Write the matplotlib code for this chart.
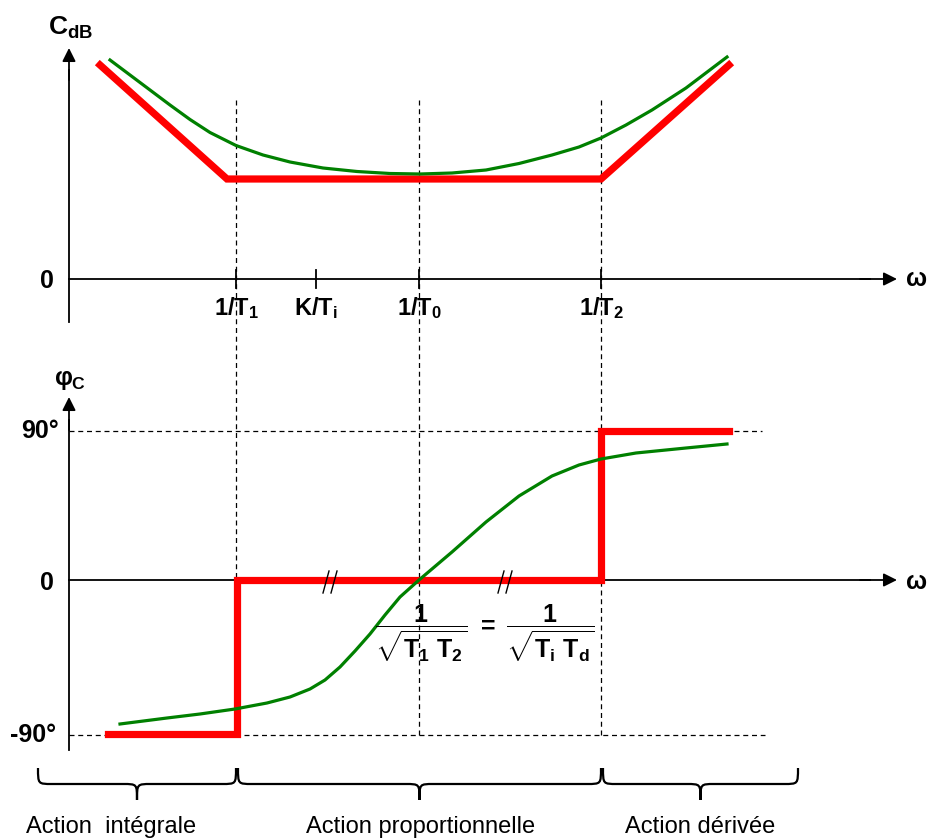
import matplotlib

matplotlib.use("Agg")
import matplotlib.pyplot as plt
from matplotlib.path import Path
from matplotlib.patches import PathPatch

# Coordonnees du dessin : pixels de l'image (x vers la droite, y vers le bas)
X_ORIG = 69
Y_GAIN = 279
Y_PHASE = 580
Y_P90 = 431
Y_M90 = 735

# Pulsations caracteristiques (positions sur l'axe omega)
pulsations = [236, 316, 419, 601]
etiquettes_puls = [r"$1/T_1$", r"$K/T_i$", r"$1/T_0$", r"$1/T_2$"]
cassures = [236, 419, 601]

# Gain : asymptotes (rouge) et courbe reelle (vert)
gain_asym_x = [100, 227, 601, 729]
gain_asym_y = [65, 179, 179, 65]
gain_reel_x = [110, 140, 170, 190, 210, 236, 263, 290, 323, 357, 390, 420,
               452, 486, 519, 552, 579, 601, 626, 652, 686, 727]
gain_reel_y = [60, 82.5, 105, 119.5, 132.5, 145.5, 155, 162, 168, 171.5, 173.5, 174,
               173, 170, 163.5, 155, 147, 138, 125, 110, 88, 57]

# Phase : asymptotes (rouge) et courbe reelle (vert)
phase_asym_x = [108, 237, 237, 601, 601, 729]
phase_asym_y = [734, 734, 580, 580, 431, 431]
phase_reel_x = [120, 167, 200, 235, 267, 290, 310, 325, 340, 355, 370, 385, 400,
                419, 452, 486, 519, 552, 579, 601, 636, 686, 727]
phase_reel_y = [724, 718, 714, 709, 703, 697, 689, 680, 667, 651, 634, 615, 597,
                580, 552, 522, 496, 476, 465, 459, 453, 448, 444]

# Zones d'action (accolades)
zones_x0 = [38, 238, 603]
zones_x1 = [236, 601, 798]
zones_noms = ["Action  intégrale", "Action proportionnelle", "Action dérivée"]
zones_texte_x = [111, 421, 700]

ROUGE = "#ff0000"
VERT = "#008000"

plt.rcParams["mathtext.fontset"] = "custom"
plt.rcParams["mathtext.rm"] = "Liberation Sans:bold"
plt.rcParams["mathtext.it"] = "Liberation Sans:bold"
plt.rcParams["mathtext.bf"] = "Liberation Sans:bold"
plt.rcParams["mathtext.sf"] = "Liberation Sans:bold"
plt.rcParams["font.family"] = ["Liberation Sans", "DejaVu Sans"]

fig = plt.figure(figsize=(9.28, 8.4), dpi=100)
ax = fig.add_axes([0, 0, 1, 1])
ax.set_xlim(0, 928)
ax.set_ylim(840, 0)
ax.axis("off")


def fleche(x0, y0, x1, y1):
    ax.annotate("", xy=(x1, y1), xytext=(x0, y0),
                arrowprops=dict(arrowstyle="-|>", lw=1.3, color="black",
                                mutation_scale=20, shrinkA=0, shrinkB=0))


def accolade(x0, x1, y_haut=768, y_mil=784, y_pointe=800, r=14):
    xm = (x0 + x1) / 2
    verts = [
        (x0, y_haut), (x0, y_mil), (x0, y_mil), (x0 + r, y_mil),
        (xm - r, y_mil),
        (xm, y_mil), (xm, y_mil), (xm, y_pointe),
        (xm, y_mil), (xm, y_mil), (xm + r, y_mil),
        (x1 - r, y_mil),
        (x1, y_mil), (x1, y_mil), (x1, y_haut),
    ]
    codes = [Path.MOVETO, Path.CURVE4, Path.CURVE4, Path.CURVE4,
             Path.LINETO,
             Path.CURVE4, Path.CURVE4, Path.CURVE4,
             Path.CURVE4, Path.CURVE4, Path.CURVE4,
             Path.LINETO,
             Path.CURVE4, Path.CURVE4, Path.CURVE4]
    ax.add_patch(PathPatch(Path(verts, codes), fill=False, lw=1.6, color="black"))


tirets = (0, (4, 3))

# --- axes du diagramme de gain ---
ax.plot([X_ORIG, X_ORIG], [322, 70], color="black", lw=1.3)
fleche(X_ORIG, 80, X_ORIG, 48)
ax.plot([X_ORIG, 870], [Y_GAIN, Y_GAIN], color="black", lw=1.3)
fleche(860, Y_GAIN, 897, Y_GAIN)
for p in pulsations:
    ax.plot([p, p], [270, 288], color="black", lw=1.3)
for p, lab in zip(pulsations, etiquettes_puls):
    ax.text(p, 308, lab, fontsize=17, ha="center", va="center")
ax.text(70, 28, r"$C_{dB}$", fontsize=19, ha="center", va="center")
ax.text(47, 281, "0", fontsize=18, fontweight="bold", ha="center", va="center")
ax.text(917, 279, "ω", fontsize=18, fontweight="bold", ha="center", va="center")

# --- axes du diagramme de phase ---
ax.plot([X_ORIG, X_ORIG], [750, 420], color="black", lw=1.3)
fleche(X_ORIG, 430, X_ORIG, 397)
ax.plot([X_ORIG, 870], [Y_PHASE, Y_PHASE], color="black", lw=1.3)
fleche(860, Y_PHASE, 897, Y_PHASE)
ax.text(70, 380, r"$φ_C$", fontsize=18, ha="center", va="center")
ax.text(40, 431, "90°", fontsize=18, fontweight="bold", ha="center", va="center")
ax.text(47, 583, "0", fontsize=18, fontweight="bold", ha="center", va="center")
ax.text(33, 735, "-90°", fontsize=18, fontweight="bold", ha="center", va="center")
ax.text(917, 582, "ω", fontsize=18, fontweight="bold", ha="center", va="center")

# lignes de rappel
for c in cassures:
    ax.plot([c, c], [100, Y_M90], color="black", lw=0.9, ls=tirets)
ax.plot([X_ORIG, 762], [Y_P90, Y_P90], color="black", lw=0.9, ls=tirets)
ax.plot([X_ORIG, 765], [Y_M90, Y_M90], color="black", lw=0.9, ls=tirets)

# courbes
ax.plot(gain_asym_x, gain_asym_y, color=ROUGE, lw=5.2, solid_joinstyle="miter")
ax.plot(gain_reel_x, gain_reel_y, color=VERT, lw=2.3, solid_joinstyle="round")
ax.plot(phase_asym_x, phase_asym_y, color=ROUGE, lw=5.2, solid_joinstyle="miter")
ax.plot(phase_reel_x, phase_reel_y, color=VERT, lw=2.3, solid_joinstyle="round")

# marques "//" (echelle interrompue)
for xh in [323, 498]:
    for dx in [0, 8]:
        ax.plot([xh + dx, xh + dx + 6], [593, 571], color="black", lw=1.0)

# relation entre les pulsations
ax.text(485, 633, r"$\dfrac{1}{\sqrt{T_1\ T_2}}\ =\ \dfrac{1}{\sqrt{T_i\ T_d}}$",
        fontsize=18, ha="center", va="center")

# accolades et zones d'action
for x0, x1 in zip(zones_x0, zones_x1):
    accolade(x0, x1)
for xt, nom in zip(zones_texte_x, zones_noms):
    ax.text(xt, 827, nom, fontsize=17, ha="center", va="center")

fig.savefig("out.png", dpi=100)
